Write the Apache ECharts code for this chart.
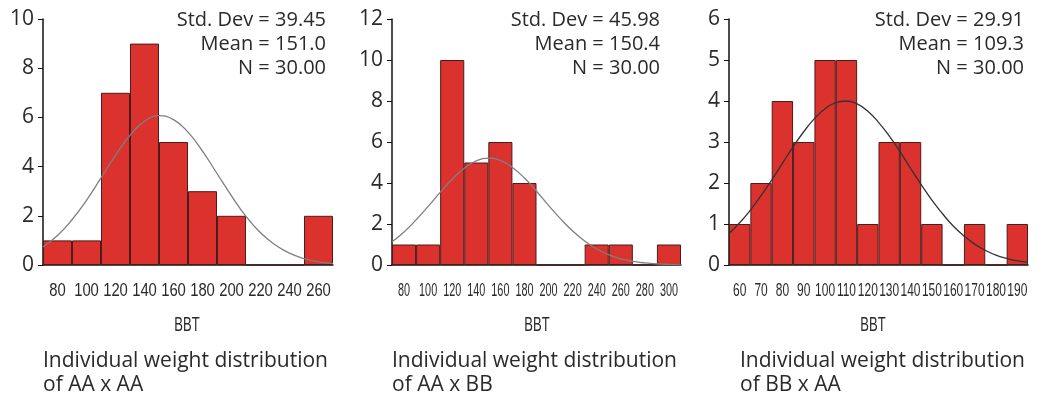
<!DOCTYPE html>
<html>
<head>
<meta charset="utf-8">
<script src="https://cdn.jsdelivr.net/npm/echarts@6/dist/echarts.min.js"></script>
<style>
  html, body { margin: 0; padding: 0; background: #fff; }
  #chart { width: 1039px; height: 399px; }
</style>
</head>
<body>
<div id="chart"></div>
<script>
// bin centres (tick labels) and counts for each panel
const binsAA = ["80", "100", "120", "140", "160", "180", "200", "220", "240", "260"];
const countsAA = [1, 1, 7, 9, 5, 3, 2, 0, 0, 2];
const binsAB = ["80", "100", "120", "140", "160", "180", "200", "220", "240", "260", "280", "300"];
const countsAB = [1, 1, 10, 5, 6, 4, 0, 0, 1, 1, 0, 1];
const binsBA = ["60", "70", "80", "90", "100", "110", "120", "130", "140", "150", "160", "170", "180", "190"];
const countsBA = [1, 2, 4, 3, 5, 5, 1, 3, 3, 1, 0, 1, 0, 1];

// fitted normal curves
const curveXAA = [70, 80, 90, 100, 110, 120, 130, 140, 150, 160, 170, 180, 190, 200, 210, 220, 230, 240, 250, 260, 270];
const curveYAA = [0.74, 1.2, 1.84, 2.63, 3.54, 4.46, 5.27, 5.84, 6.07, 5.91, 5.4, 4.63, 3.72, 2.81, 1.98, 1.31, 0.82, 0.48, 0.26, 0.13, 0.06];
const curveXAB = [70, 80, 90, 100, 110, 120, 130, 140, 150, 160, 170, 180, 190, 200, 210, 220, 230, 240, 250, 260, 270, 280, 290, 300, 310];
const curveYAB = [1.13, 1.61, 2.2, 2.86, 3.54, 4.18, 4.72, 5.08, 5.21, 5.1, 4.76, 4.24, 3.6, 2.91, 2.25, 1.66, 1.17, 0.78, 0.5, 0.3, 0.18, 0.1, 0.05, 0.03, 0.01];
const curveXBA = [55, 60, 65, 70, 75, 80, 85, 90, 95, 100, 105, 110, 115, 120, 125, 130, 135, 140, 145, 150, 155, 160, 165, 170, 175, 180, 185, 190, 195];
const curveYBA = [0.77, 1.03, 1.34, 1.69, 2.07, 2.48, 2.88, 3.25, 3.57, 3.81, 3.96, 4.0, 3.93, 3.75, 3.48, 3.15, 2.77, 2.36, 1.96, 1.58, 1.25, 0.95, 0.71, 0.51, 0.36, 0.24, 0.16, 0.1, 0.07];

const statsAA = ["Std. Dev = 39.45", "Mean = 151.0", "N = 30.00"];
const statsAB = ["Std. Dev = 45.98", "Mean = 150.4", "N = 30.00"];
const statsBA = ["Std. Dev = 29.91", "Mean = 109.3", "N = 30.00"];
const captions = [
  "Individual weight distribution\nof AA x AA",
  "Individual weight distribution\nof AA x BB",
  "Individual weight distribution\nof BB x AA",
];
const axisName = "BBT";

const panels = [
  { bins: binsAA, counts: countsAA, cx: curveXAA, cy: curveYAA, stats: statsAA, xMin: 70, xMax: 270, yMax: 10, yStep: 2, left: 43, width: 290, curveColor: "#7f7f7f", squeeze: 0.78, capLeft: 43 },
  { bins: binsAB, counts: countsAB, cx: curveXAB, cy: curveYAB, stats: statsAB, xMin: 70, xMax: 310, yMax: 12, yStep: 2, left: 392, width: 289, curveColor: "#7f7f7f", squeeze: 0.57, capLeft: 392 },
  { bins: binsBA, counts: countsBA, cx: curveXBA, cy: curveYBA, stats: statsBA, xMin: 55, xMax: 195, yMax: 6, yStep: 1, left: 729, width: 299, curveColor: "#333333", squeeze: 0.63, capLeft: 740 },
];

const textColor = "#2a2a2a";
const body = "'Open Sans', 'Noto Sans', sans-serif";
const tickFont = "'Liberation Sans', Arial, sans-serif";

const grid = [], xAxis = [], yAxis = [], series = [];

panels.forEach((p, i) => {
  grid.push({ left: p.left, width: p.width, top: 19, height: 246 });

  // category axis: one band per bin, ticks at bin centres
  xAxis.push({
    type: "category",
    gridIndex: i,
    data: p.bins,
    boundaryGap: true,
    axisLine: { lineStyle: { color: "#111", width: 1.5 } },
    axisTick: { alignWithLabel: true, length: 5, lineStyle: { color: "#111" } },
    axisLabel: { show: false },
  });
  // hidden value axis for the fitted curve
  xAxis.push({
    type: "value",
    gridIndex: i,
    min: p.xMin,
    max: p.xMax,
    show: false,
  });

  yAxis.push({
    type: "value",
    gridIndex: i,
    min: 0,
    max: p.yMax,
    interval: p.yStep,
    axisLine: { show: true, lineStyle: { color: "#111", width: 1.5 } },
    axisTick: { show: true, length: 5, lineStyle: { color: "#111" } },
    axisLabel: { color: textColor, fontSize: 21, fontFamily: body, margin: 9 },
    splitLine: { show: false },
  });

  series.push({
    type: "bar",
    xAxisIndex: i * 2,
    yAxisIndex: i,
    data: p.counts,
    barWidth: "100%",
    itemStyle: { color: "#db322d", borderColor: "#4a1c1c", borderWidth: 1 },
    silent: true,
  });
  series.push({
    type: "line",
    xAxisIndex: i * 2 + 1,
    yAxisIndex: i,
    data: p.cx.map((x, k) => [x, p.cy[k]]),
    smooth: true,
    showSymbol: false,
    lineStyle: { color: p.curveColor, width: 1.3 },
    silent: true,
    z: 5,
  });
});

const chart = echarts.init(document.getElementById("chart"), null, { renderer: "canvas" });
chart.setOption({ animation: false, grid, xAxis, yAxis, series });

// condensed tick labels and texts, placed through the axes' own scales
const graphic = [];
panels.forEach((p, i) => {
  const baseY = chart.convertToPixel({ yAxisIndex: i }, 0);
  p.bins.forEach((b) => {
    graphic.push({
      type: "text",
      x: chart.convertToPixel({ xAxisIndex: i * 2 }, b),
      y: baseY + 26,
      scaleX: p.squeeze,
      silent: true,
      style: { text: b, align: "center", verticalAlign: "middle", fill: textColor, font: "19px " + tickFont },
    });
  });
  graphic.push({
    type: "text",
    x: [187, 537, 873][i],
    y: 325,
    scaleX: 0.62,
    silent: true,
    style: { text: axisName, align: "center", verticalAlign: "middle", fill: textColor, font: "21px " + tickFont },
  });
  graphic.push({
    type: "text",
    x: [326, 660, 1024][i],
    y: 8,
    silent: true,
    style: { text: p.stats.join("\n"), align: "right", fill: textColor, font: "20px " + body, lineHeight: 24 },
  });
  graphic.push({
    type: "text",
    x: p.capLeft,
    y: 349,
    silent: true,
    style: { text: captions[i], fill: textColor, font: "21px " + body, lineHeight: 24 },
  });
});
chart.setOption({ graphic });
</script>
</body>
</html>
